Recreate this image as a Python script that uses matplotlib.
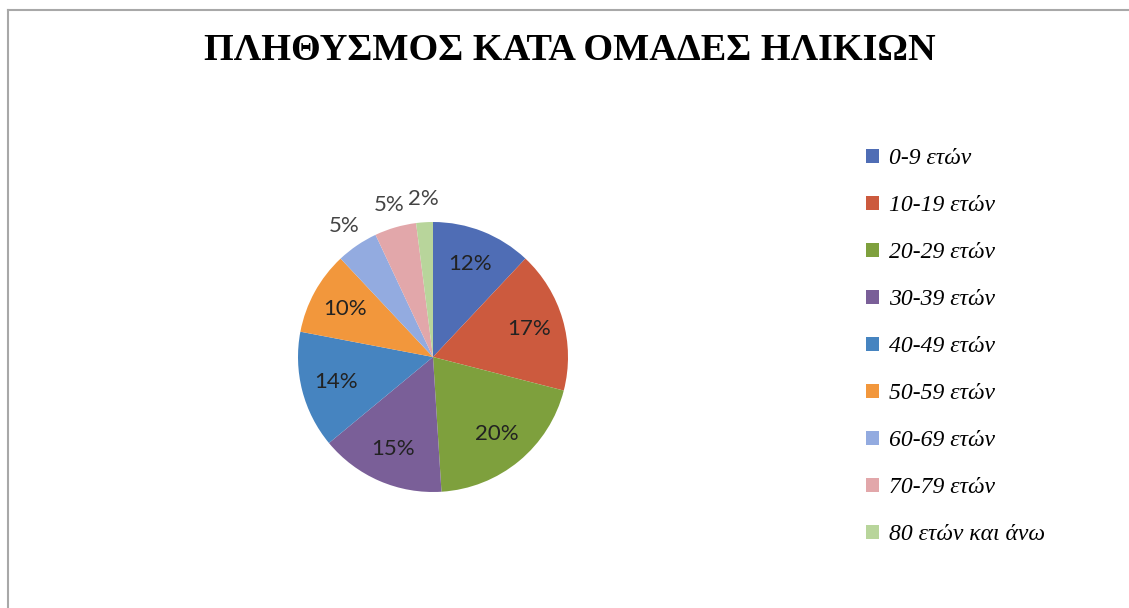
import matplotlib.pyplot as plt
import numpy as np
from matplotlib.patches import Patch
from matplotlib.lines import Line2D

labels = ["0-9 ετών", "10-19 ετών", "20-29 ετών", "30-39 ετών", "40-49 ετών",
          "50-59 ετών", "60-69 ετών", "70-79 ετών", "80 ετών και άνω"]
values = [12, 17, 20, 15, 14, 10, 5, 5, 2]
colors = ["#4f6db5", "#cc5a3e", "#7ea03d", "#7a5f98", "#4684c0",
          "#f2973c", "#93abe0", "#e2a7aa", "#b8d59b"]
title = "ΠΛΗΘΥΣΜΟΣ ΚΑΤΑ ΟΜΑΔΕΣ ΗΛΙΚΙΩΝ"

W, H = 1129, 608
fig = plt.figure(figsize=(W / 100, H / 100), dpi=100)
fig.patch.set_facecolor("white")

# outer chart frame (cut off at right/bottom like the screenshot)
fig.add_artist(Line2D([8 / W, 8 / W], [0, 1 - 10 / H], color="#a8a8a8", lw=1.5))
fig.add_artist(Line2D([8 / W, 1], [1 - 10 / H, 1 - 10 / H], color="#a8a8a8", lw=1.5))

fig.text(570 / W, 1 - 51 / H, title, ha="center", va="center",
         fontsize=27.5, fontweight="bold", family="Liberation Serif")

cx, cy, r = 433, 357, 135
ax = fig.add_axes([(cx - r) / W, (H - cy - r) / H, 2 * r / W, 2 * r / H])
wedges, texts, autotexts = ax.pie(
    values, colors=colors, startangle=90, counterclock=False,
    autopct="%d%%", pctdistance=0.74,
    textprops=dict(fontsize=16, family="Lato", color="#222222"),
)
ax.set_xlim(-1, 1)
ax.set_ylim(-1, 1)
ax.set_aspect("equal")

# small slices get their labels outside
for w, t in zip(wedges, autotexts):
    if w.theta2 - w.theta1 < 20:
        a = np.deg2rad((w.theta1 + w.theta2) / 2)
        t.set_position((1.17 * np.cos(a), 1.17 * np.sin(a)))
        t.set_color("#444444")

handles = [Patch(facecolor=c, edgecolor="none") for c in colors]
fig.legend(handles, labels, loc="upper left", bbox_to_anchor=(845 / W, 1 - 127 / H),
           frameon=False, handlelength=0.55, handleheight=0.55, handletextpad=0.4,
           labelspacing=1.1,
           prop=dict(family="Liberation Serif", style="italic", size=17))

fig.savefig("out.png", dpi=100)
